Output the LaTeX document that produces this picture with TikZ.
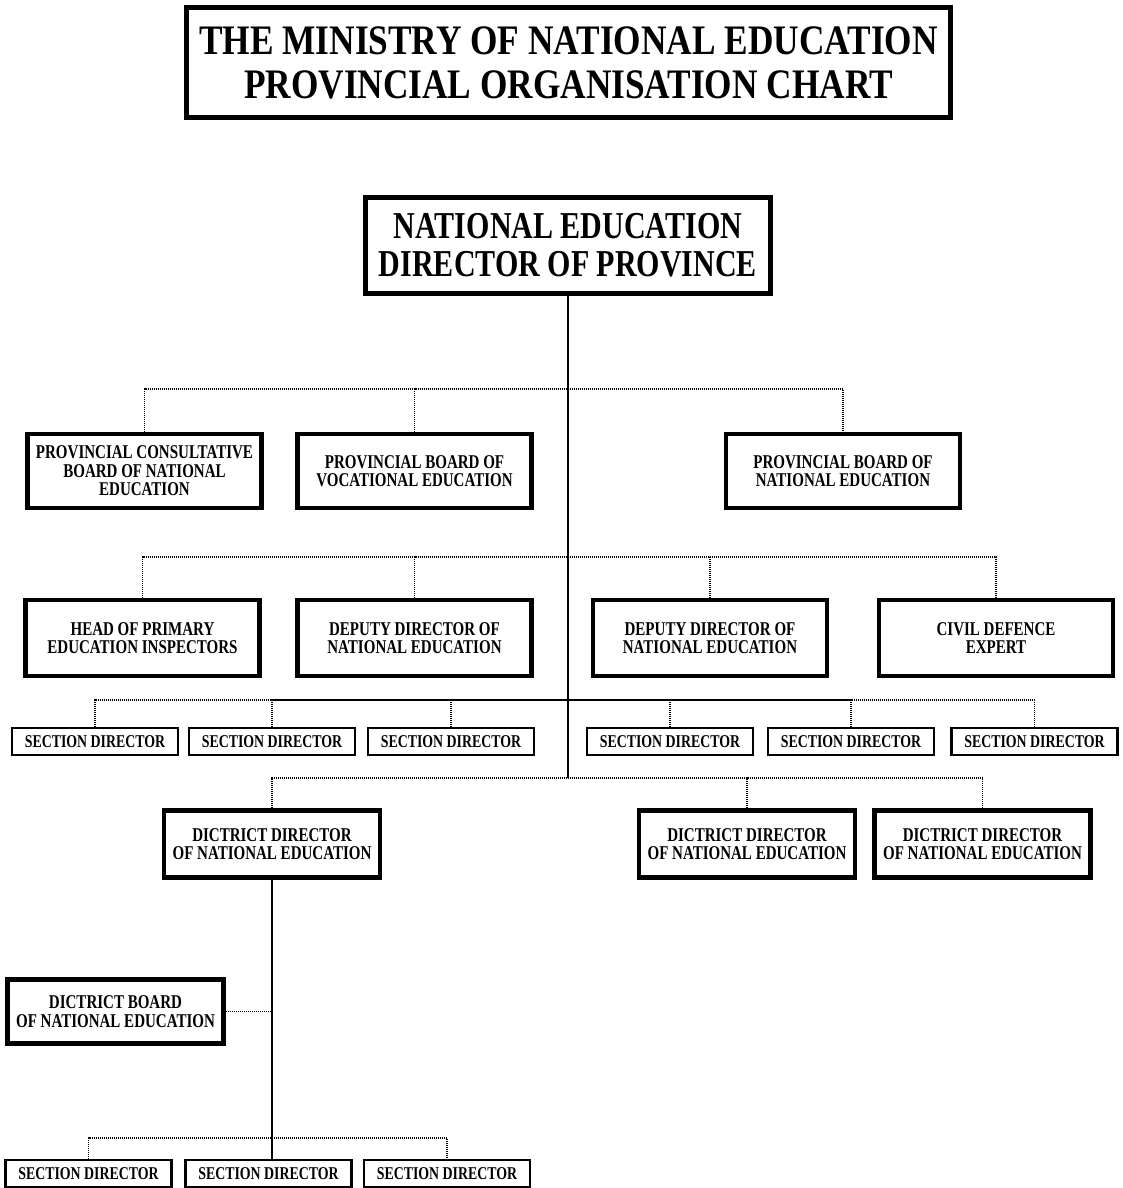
\documentclass[tikz,border=0pt]{standalone}
\usepackage{fontspec}
\setmainfont{Liberation Serif}
\newfontfamily\titlefont[FakeStretch=0.84]{Liberation Serif}
\newfontfamily\headfont[FakeStretch=0.79]{Liberation Serif}
\newfontfamily\boxfont[FakeStretch=0.77]{Liberation Serif}

\tikzset{
  box/.style={draw, line width=4.2pt, inner sep=0pt, align=center,
    font=\boxfont\bfseries\fontsize{19.5}{18.5}\selectfont,
    minimum width=234pt, minimum height=74pt},
  secbox/.style={draw, line width=2.6pt, inner sep=0pt,
    font=\boxfont\bfseries\fontsize{18}{18}\selectfont,
    minimum width=166pt, minimum height=27pt},
  link/.style={line width=1.8pt, dash pattern=on 1pt off 1pt},
  trunk/.style={line width=2pt}
}

\begin{document}
\begin{tikzpicture}[x=1pt,y=1pt]
  \useasboundingbox (0,0) rectangle (1122,-1188);

  % title and head
  \node[draw, line width=5pt, minimum width=764pt, minimum height=110pt,
        align=center, font=\titlefont\bfseries\fontsize{42}{44}\selectfont]
        (title) at (568.5,-62.5) {THE MINISTRY OF NATIONAL EDUCATION\\PROVINCIAL ORGANISATION CHART};
  \node[draw, line width=5pt, minimum width=405pt, minimum height=96pt,
        align=center, font=\headfont\bfseries\fontsize{38}{38}\selectfont]
        (dir) at (568,-245.5) {NATIONAL EDUCATION\\DIRECTOR OF PROVINCE};

  % boards
  \node[box] (pcb) at (144.5,-471) {PROVINCIAL CONSULTATIVE\\BOARD OF NATIONAL\\EDUCATION};
  \node[box] (pbv) at (414.5,-471) {PROVINCIAL BOARD OF\\VOCATIONAL EDUCATION};
  \node[box] (pbn) at (843,-471) {PROVINCIAL BOARD OF\\NATIONAL EDUCATION};

  % deputies
  \node[box, minimum height=76pt] (hpe) at (142.5,-638) {HEAD OF PRIMARY\\EDUCATION INSPECTORS};
  \node[box, minimum height=76pt] (ddn1) at (414.5,-638) {DEPUTY DIRECTOR OF\\NATIONAL EDUCATION};
  \node[box, minimum height=76pt] (ddn2) at (710,-638) {DEPUTY DIRECTOR OF\\NATIONAL EDUCATION};
  \node[box, minimum height=76pt] (cde) at (996,-638) {CIVIL DEFENCE\\EXPERT};

  % section directors
  \node[secbox] (sd1) at (95,-741.5) {SECTION DIRECTOR};
  \node[secbox] (sd2) at (272,-741.5) {SECTION DIRECTOR};
  \node[secbox] (sd3) at (451,-741.5) {SECTION DIRECTOR};
  \node[secbox] (sd4) at (670,-741.5) {SECTION DIRECTOR};
  \node[secbox] (sd5) at (851,-741.5) {SECTION DIRECTOR};
  \node[secbox] (sd6) at (1034.5,-741.5) {SECTION DIRECTOR};

  % districts
  \node[box, minimum width=216pt, minimum height=67pt] (dd1) at (272,-844) {DICTRICT DIRECTOR\\OF NATIONAL EDUCATION};
  \node[box, minimum width=216pt, minimum height=67pt] (dd2) at (747,-844) {DICTRICT DIRECTOR\\OF NATIONAL EDUCATION};
  \node[box, minimum width=216pt, minimum height=67pt] (dd3) at (982.5,-844) {DICTRICT DIRECTOR\\OF NATIONAL EDUCATION};
  \node[box, minimum width=216pt, minimum height=64pt] (db) at (115.5,-1011.5) {DICTRICT BOARD\\OF NATIONAL EDUCATION};

  \node[secbox] (bsd1) at (88.5,-1173.5) {SECTION DIRECTOR};
  \node[secbox] (bsd2) at (268.5,-1173.5) {SECTION DIRECTOR};
  \node[secbox] (bsd3) at (447,-1173.5) {SECTION DIRECTOR};

  % junctions
  \coordinate (j1) at (568,-389);
  \coordinate (j2) at (568,-557);
  \coordinate (j3) at (568,-700);
  \coordinate (j4) at (568,-778);
  \coordinate (j5) at (dd1.south |- 0,-1138);

  \draw[trunk] (dir.south) -- (j4);
  \draw[link] (pcb.north) |- (j1) -| (pbn.north);
  \draw[link] (pbv.north) |- (j1);
  \draw[link] (hpe.north) |- (j2) -| (cde.north);
  \draw[link] (ddn1.north) |- (j2);
  \draw[link] (ddn2.north) |- (j2);
  \draw[link] (sd1.north) |- (j3) -| (sd6.north);
  \foreach \n in {sd2,sd3,sd4,sd5}
    \draw[link] (\n.north) |- (j3);
  \draw[link] (dd1.north) |- (j4) -| (dd3.north);
  \draw[link] (dd2.north) |- (j4);

  \draw[trunk] (dd1.south) -- (dd1.south |- bsd2.north);
  \draw[link] (db.east) -- (db.east -| dd1.south);
  \draw[link] (bsd1.north) |- (j5) -| (bsd3.north);
\end{tikzpicture}
\end{document}
